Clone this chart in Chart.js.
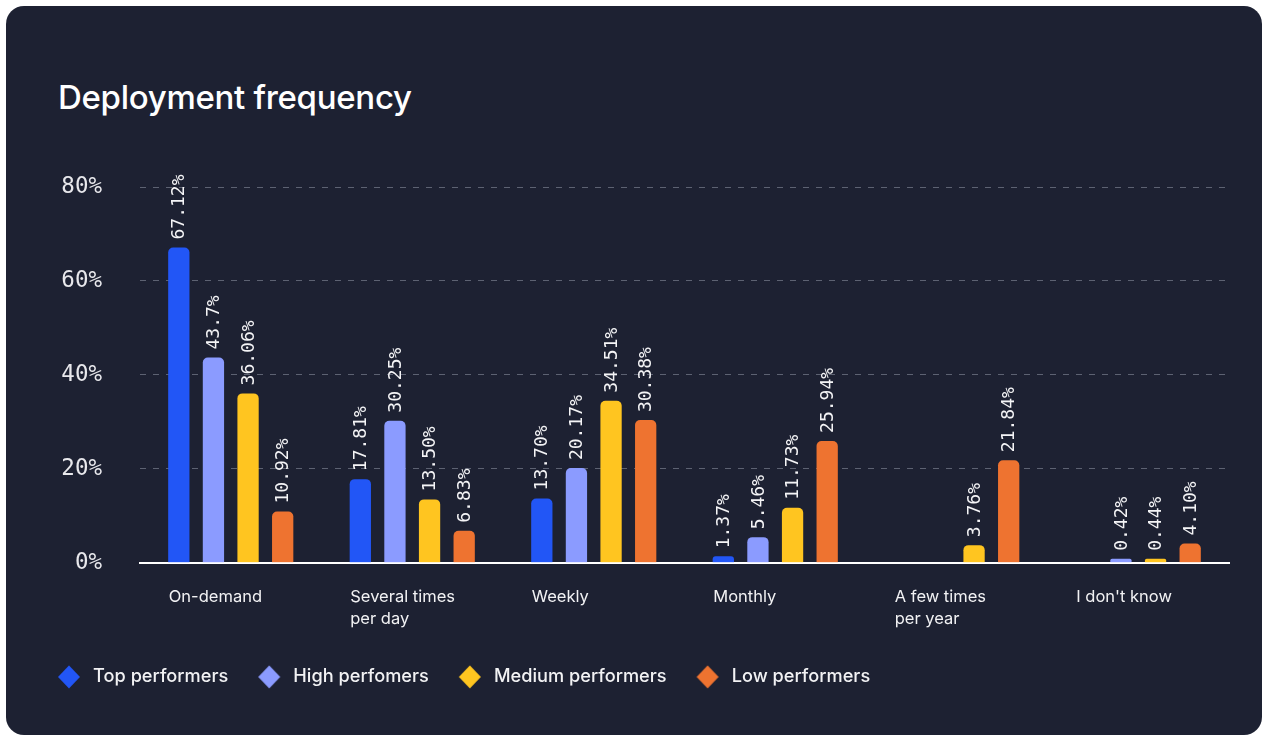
<!DOCTYPE html>
<html>
<head>
<meta charset="utf-8">
<title>Deployment frequency</title>
<script src="https://cdn.jsdelivr.net/npm/chart.js@4.4.1/dist/chart.umd.min.js"></script>
<style>
  html, body {
    margin: 0;
    padding: 0;
    background: #ffffff;
    width: 1265px;
    height: 737px;
    overflow: hidden;
  }
  .card {
    position: absolute;
    left: 6px;
    top: 6px;
    width: 1256px;
    height: 729px;
    border-radius: 18px;
    background: #1d2132;
    overflow: hidden;
  }
  .card h1 {
    position: absolute;
    left: 52px;
    top: 75px;
    margin: 0;
    font-family: Inter, 'Noto Sans', sans-serif;
    font-size: 33px;
    line-height: 33px;
    font-weight: 500;
    letter-spacing: -0.3px;
    color: #ffffff;
  }
  .card canvas {
    position: absolute;
    left: 0;
    top: 0;
  }
</style>
</head>
<body>
<div class="card">
  <h1>Deployment frequency</h1>
  <canvas id="deployChart" width="1256" height="729"></canvas>
</div>

<script>
const categories = [
  'On-demand',
  ['Several times', 'per day'],
  'Weekly',
  'Monthly',
  ['A few times', 'per year'],
  "I don't know"
]

// percentages kept as text so the labels keep their printed precision
const topPerformers = ['67.12', '17.81', '13.70', '1.37', null, null]
const highPerformers = ['43.7', '30.25', '20.17', '5.46', null, '0.42']
const mediumPerformers = ['36.06', '13.50', '34.51', '11.73', '3.76', '0.44']
const lowPerformers = ['10.92', '6.83', '30.38', '25.94', '21.84', '4.10']

const yTicks = [0, 20, 40, 60, 80]

const seriesNames = ['Top performers', 'High perfomers', 'Medium performers', 'Low performers']
const seriesColors = ['#2256f6', '#8b9bff', '#ffc520', '#ee7330']
const seriesValues = [topPerformers, highPerformers, mediumPerformers, lowPerformers]

const toNumbers = list => list.map(v => (v === null ? null : Number(v)))

const monoFont = "'DejaVu Sans Mono', 'Liberation Mono', monospace"
const sansFont = "Inter, 'Noto Sans', sans-serif"

// legend box is wider than the diamond so the text sits a bit further right
const legendBoxWidth = 44
const legendDiamondX = 29

const makeDiamond = color => {
  const c = document.createElement('canvas')
  c.width = legendBoxWidth
  c.height = 24
  const g = c.getContext('2d')
  g.fillStyle = color
  g.beginPath()
  g.moveTo(legendDiamondX, 0.5)
  g.lineTo(legendDiamondX + 11, 12)
  g.lineTo(legendDiamondX, 23.5)
  g.lineTo(legendDiamondX - 11, 12)
  g.closePath()
  g.fill()
  return c
}

const legendMarks = seriesColors.map(makeDiamond)

// rotated percentage above each bar
const barLabels = {
  id: 'barLabels',
  afterDatasetsDraw (chart) {
    const ctx = chart.ctx
    ctx.save()
    ctx.font = '18px ' + monoFont
    ctx.fillStyle = '#f4f4f6'
    ctx.textAlign = 'left'
    ctx.textBaseline = 'middle'
    chart.data.datasets.forEach((ds, i) => {
      const meta = chart.getDatasetMeta(i)
      meta.data.forEach((bar, j) => {
        const text = ds.labels[j]
        if (text === null) return
        ctx.save()
        ctx.translate(bar.x, bar.y - 8)
        ctx.rotate(-Math.PI / 2)
        ctx.fillText(text + '%', 0, 1)
        ctx.restore()
      })
    })
    ctx.restore()
  }
}

const initChart = () => {
  const ctx = document.getElementById('deployChart').getContext('2d')

  const datasets = seriesNames.map((name, i) => ({
    label: name,
    data: toNumbers(seriesValues[i]),
    labels: seriesValues[i],
    backgroundColor: seriesColors[i],
    borderWidth: 0,
    borderRadius: 5,
    borderSkipped: 'start',
    minBarLength: 4,
    barPercentage: 0.615,
    categoryPercentage: 0.763
  }))

  const config = {
    type: 'bar',
    data: { labels: categories, datasets },
    plugins: [barLabels],
    options: {
      responsive: false,
      animation: false,
      layout: {
        padding: { left: 22, right: 33, top: 181, bottom: 39 }
      },
      plugins: {
        tooltip: { enabled: false },
        legend: {
          position: 'bottom',
          align: 'start',
          labels: {
            usePointStyle: true,
            pointStyleWidth: legendBoxWidth,
            boxHeight: 18,
            padding: 12,
            color: '#f2f2f4',
            font: { family: sansFont, size: 18.2, weight: 500 },
            generateLabels: chart =>
              Chart.defaults.plugins.legend.labels
                .generateLabels(chart)
                .map((item, i) => ({ ...item, pointStyle: legendMarks[i] }))
          }
        }
      },
      scales: {
        x: {
          afterFit: scale => {
            scale.height = 93
          },
          grid: { display: false },
          border: { color: '#ffffff', width: 2 },
          ticks: {
            align: 'start',
            labelOffset: -62,
            padding: 15,
            color: '#f2f2f4',
            font: { family: sansFont, size: 16.5, lineHeight: 1.36 }
          }
        },
        y: {
          min: yTicks[0],
          max: yTicks[yTicks.length - 1],
          afterFit: scale => {
            scale.width = 112
          },
          afterBuildTicks: scale => {
            scale.ticks = yTicks.map(v => ({ value: v }))
          },
          grid: {
            drawTicks: false,
            color: c => (c.tick && c.tick.value === 0 ? 'rgba(0,0,0,0)' : '#5d6272'),
            lineWidth: 1
          },
          border: { display: false, dash: [6, 7] },
          ticks: {
            padding: 38,
            color: '#e8e8ec',
            font: { family: monoFont, size: 22.5 },
            callback: v => v + '%'
          }
        }
      }
    }
  }

  const deployChart = new Chart(ctx, config)
}

initChart()
</script>
</body>
</html>
